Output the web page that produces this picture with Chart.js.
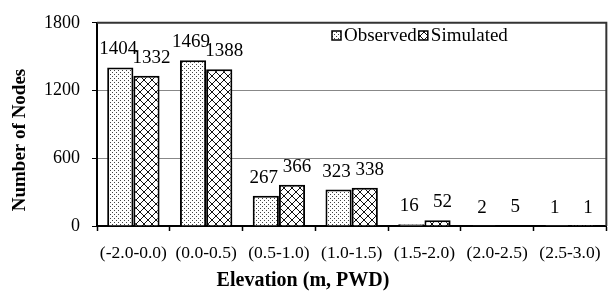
<!DOCTYPE html>
<html lang="en">
<head>
    <meta charset="UTF-8">
    <title>Number of Nodes by Elevation</title>
    <script src="https://cdn.jsdelivr.net/npm/chart.js"></script>
    <style>
        html, body { margin: 0; padding: 0; background: #fff; }
        #wrap { width: 613px; height: 291px; }
    </style>
</head>
<body>
    <div id="wrap"><canvas id="nodesChart" width="613" height="291"></canvas></div>

    <script>
        // data
        const categories = ['(-2.0-0.0)', '(0.0-0.5)', '(0.5-1.0)', '(1.0-1.5)', '(1.5-2.0)', '(2.0-2.5)', '(2.5-3.0)'];
        const observed = [1404, 1469, 267, 323, 16, 2, 1];
        const simulated = [1332, 1388, 366, 338, 52, 5, 1];
        const yTicks = [0, 600, 1200, 1800];
        const xTitle = 'Elevation (m, PWD)';
        const yTitle = 'Number of Nodes';

        const FONT = '"Liberation Serif", "Times New Roman", serif';

        function dotPattern() {
            const c = document.createElement('canvas');
            c.width = 4; c.height = 4;
            const g = c.getContext('2d');
            g.fillStyle = '#fff';
            g.fillRect(0, 0, 4, 4);
            g.fillStyle = '#444';
            g.fillRect(0, 0, 1, 1);
            g.fillRect(2, 2, 1, 1);
            return g.createPattern(c, 'repeat');
        }

        function crossPattern() {
            const c = document.createElement('canvas');
            c.width = 8; c.height = 8;
            const g = c.getContext('2d');
            g.fillStyle = '#fff';
            g.fillRect(0, 0, 8, 8);
            g.strokeStyle = '#111';
            g.lineWidth = 1;
            g.beginPath();
            g.moveTo(-1, -1); g.lineTo(9, 9);
            g.moveTo(9, -1); g.lineTo(-1, 9);
            g.stroke();
            return g.createPattern(c, 'repeat');
        }

        const obsFill = dotPattern();
        const simFill = crossPattern();

        // value labels above the bars
        const valueLabels = {
            id: 'valueLabels',
            afterDatasetsDraw(chart) {
                const ctx = chart.ctx;
                ctx.save();
                ctx.font = '19px ' + FONT;
                ctx.fillStyle = '#000';
                ctx.textAlign = 'center';
                ctx.textBaseline = 'middle';
                chart.data.datasets.forEach((ds, i) => {
                    const shift = i === 0 ? -2 : 5;
                    chart.getDatasetMeta(i).data.forEach((bar, j) => {
                        ctx.fillText(String(ds.data[j]), bar.x + shift, bar.y - 18);
                    });
                });
                ctx.restore();
            }
        };

        // frame, axis titles and legend
        const frameAndLegend = {
            id: 'frameAndLegend',
            afterDraw(chart) {
                const ctx = chart.ctx;
                const a = chart.chartArea;
                ctx.save();
                ctx.strokeStyle = '#333';
                ctx.lineWidth = 2;
                ctx.beginPath();
                ctx.moveTo(a.left, a.top);
                ctx.lineTo(a.right, a.top);
                ctx.lineTo(a.right, a.bottom);
                ctx.stroke();

                // axis titles (Excel puts them off the plot centre)
                ctx.fillStyle = '#000';
                ctx.textAlign = 'center';
                ctx.textBaseline = 'middle';
                ctx.font = 'bold 20px ' + FONT;
                ctx.fillText(xTitle, 303, 281);
                ctx.save();
                ctx.translate(20, 140);
                ctx.rotate(-Math.PI / 2);
                ctx.font = 'bold 19px ' + FONT;
                ctx.fillText(yTitle, 0, 0);
                ctx.restore();

                // legend
                ctx.font = '19px ' + FONT;
                ctx.textAlign = 'left';
                let x = 332;
                const y = 36;
                chart.data.datasets.forEach((ds) => {
                    ctx.fillStyle = ds.backgroundColor;
                    ctx.fillRect(x, y - 5, 9, 9);
                    ctx.strokeStyle = '#000';
                    ctx.lineWidth = 1.5;
                    ctx.strokeRect(x, y - 5, 9, 9);
                    ctx.fillStyle = '#000';
                    ctx.fillText(ds.label, x + 12, y);
                    x += 12 + ctx.measureText(ds.label).width + 2;
                });
                ctx.restore();
            }
        };

        new Chart(document.getElementById('nodesChart'), {
            type: 'bar',
            data: {
                labels: categories,
                datasets: [
                    { label: 'Observed', data: observed, backgroundColor: obsFill, borderColor: '#000', borderWidth: 2 },
                    { label: 'Simulated', data: simulated, backgroundColor: simFill, borderColor: '#000', borderWidth: 2 }
                ]
            },
            options: {
                responsive: false,
                animation: false,
                layout: { padding: { top: 18, right: 6, left: 0, bottom: 0 } },
                plugins: { legend: { display: false }, tooltip: { enabled: false } },
                datasets: { bar: { categoryPercentage: 0.72, barPercentage: 1.0 } },
                scales: {
                    x: {
                        afterFit(scale) { scale.height = 65; },
                        grid: { offset: true, drawOnChartArea: false, tickLength: 5, tickColor: '#000', tickWidth: 1.5 },
                        border: { color: '#000', width: 2 },
                        ticks: { color: '#000', font: { family: FONT, size: 17.5 }, maxRotation: 0, autoSkip: false, padding: 12 }
                    },
                    y: {
                        min: 0,
                        max: 1800,
                        afterBuildTicks(scale) { scale.ticks = yTicks.map(v => ({ value: v })); },
                        afterFit(scale) { scale.width = 97; },
                        grid: {
                            color: ctx => (ctx.tick && (ctx.tick.value === 0 || ctx.tick.value === 1800)) ? 'rgba(0,0,0,0)' : '#888',
                            lineWidth: 1,
                            tickLength: 5,
                            tickColor: '#000'
                        },
                        border: { color: '#000', width: 2 },
                        ticks: { color: '#000', font: { family: FONT, size: 18 }, padding: 12, callback: v => String(v) }
                    }
                }
            },
            plugins: [valueLabels, frameAndLegend]
        });
    </script>
</body>
</html>
